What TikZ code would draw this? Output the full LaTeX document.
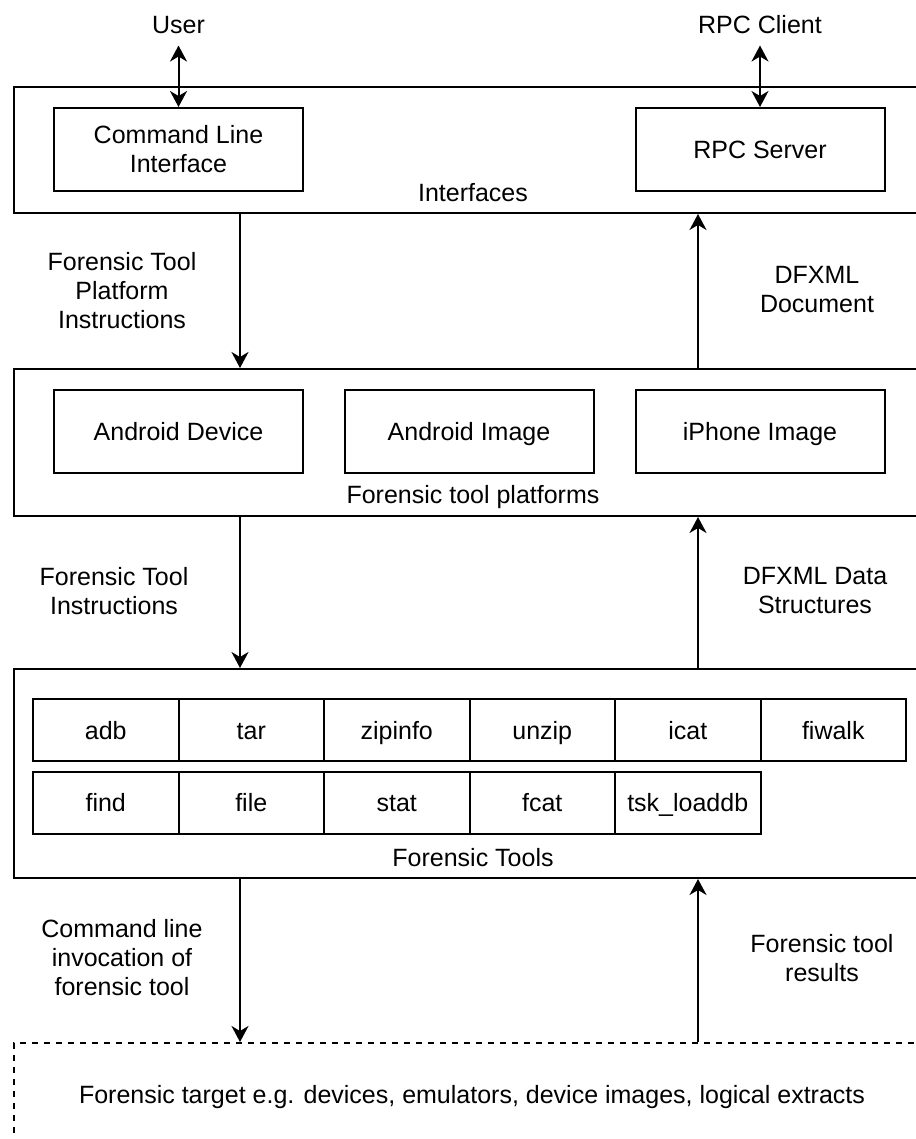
\documentclass[tikz,border=0pt]{standalone}
\usepackage{fontspec}
\setmainfont{Liberation Sans}
\usetikzlibrary{positioning,arrows.meta}

\begin{document}
\begin{tikzpicture}[x=1pt, y=-1pt, font=\fontsize{25}{29}\selectfont,
    oneline/.style={text height=23pt, text depth=5pt},
    layer/.style={draw, line width=2pt, anchor=north west, minimum width=930pt, minimum height=#1, inner sep=0pt},
    part/.style={draw, line width=2pt, minimum width=249pt, minimum height=83pt, align=center},
    tool/.style={draw, line width=2pt, minimum width=145.5pt, minimum height=62pt, inner sep=0pt, oneline},
    flow/.style={-{Stealth[length=16pt, width=17pt, inset=5pt]}, line width=2pt},
    twoway/.style={{Stealth[length=16pt, width=17pt, inset=5pt]}-{Stealth[length=16pt, width=17pt, inset=5pt]}, line width=2pt},
    note/.style={align=center}]

    \useasboundingbox (0,0) rectangle (915,1139);

    % Layers
    \node[layer=126pt] (iface) at (12.5,86) {};
    \node[layer=147pt] (plat) at (12.5,368) {};
    \node[layer=209pt] (tools) at (12.5,668) {};
    \node[layer=120pt, dash pattern=on 6pt off 6pt] (target) at (12.5,1042) {};

    \node[oneline] (ifacelbl) at (473,193) {Interfaces};
    \node[oneline] (platlbl) at (473,494) {Forensic tool platforms};
    \node[oneline] (toolslbl) at (473,857) {Forensic Tools};
    \node[oneline] (targetlbl) at (472,1094) {Forensic target e.g. devices, emulators, device images, logical extracts};

    % Interfaces
    \node[oneline] (user) at (178.5,25) {User};
    \node[oneline] (client) at (760,25) {RPC Client};
    \node[part] (cli) at (178.5,149.5) {Command Line\\Interface};
    \node[part, oneline] (rpc) at (760,149.5) {RPC Server};
    \draw[twoway, shorten <=3pt] (user.south) -- (cli.north);
    \draw[twoway, shorten <=3pt] (client.south) -- (rpc.north);

    % Platforms
    \node[part, oneline] (droid) at (178.5,431.5) {Android Device};
    \node[part, oneline] (droidimg) at (469,431.5) {Android Image};
    \node[part, oneline] (iphoneimg) at (760,431.5) {iPhone Image};

    % Tools, two rows
    \foreach \name [count=\i] in {adb,tar,zipinfo,unzip,icat,fiwalk}
        \node[tool] (ta\i) at ({105.75+145.5*(\i-1)},730) {\name};
    \foreach \name [count=\i] in {find,file,stat,fcat,tsk\_loaddb}
        \node[tool] (tb\i) at ({105.75+145.5*(\i-1)},802.5) {\name};

    % Flows between layers
    \coordinate (down) at (240,0);
    \coordinate (up) at (698,0);
    \draw[flow] (down |- iface.south) -- (down |- plat.north);
    \draw[flow] (up |- plat.north) -- (up |- iface.south);
    \draw[flow] (down |- plat.south) -- (down |- tools.north);
    \draw[flow] (up |- tools.north) -- (up |- plat.south);
    \draw[flow] (down |- tools.south) -- (down |- target.north);
    \draw[flow] (up |- target.north) -- (up |- tools.south);

    \node[note] (fwd1) at (122,291) {Forensic Tool\\Platform\\Instructions};
    \node[note] (back1) at (817,290) {DFXML\\Document};
    \node[note] (fwd2) at (114,591) {Forensic Tool\\Instructions};
    \node[note] (back2) at (815,591) {DFXML Data\\Structures};
    \node[note] (fwd3) at (122,958) {Command line\\invocation of\\forensic tool};
    \node[note] (back3) at (822,958) {Forensic tool\\results};

\end{tikzpicture}
\end{document}
